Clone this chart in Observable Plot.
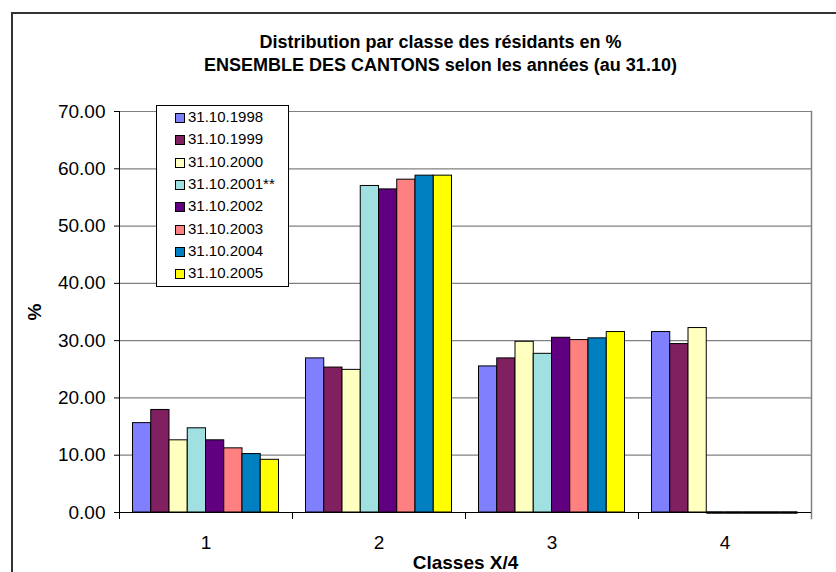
<!DOCTYPE html>
<html>
<head>
<meta charset="utf-8">
<script src="https://cdn.jsdelivr.net/npm/d3@7"></script>
<script src="https://cdn.jsdelivr.net/npm/@observablehq/plot@0.6"></script>
<style>
  body { margin: 0; background: #fff; font-family: "Liberation Sans", Arial, sans-serif; }
  #wrap { position: relative; width: 836px; height: 572px; overflow: hidden; background: #fff; }
  #wrap svg { position: absolute; left: 0; top: 0; }
  #border { position: absolute; left: 11px; top: 12px; width: 900px; height: 700px; border: 2px solid #333; pointer-events: none; }
  #title { position: absolute; left: 12px; width: 857px; top: 31px; text-align: center; font-weight: bold; font-size: 18px; line-height: 23px; color: #000; }
  #legend { position: absolute; left: 156px; top: 105px; width: 131px; height: 180px; border: 1px solid #000; background: #fff; }
  .item { position: absolute; left: 0; height: 22px; line-height: 22px; font-size: 15px; color: #000; white-space: nowrap; }
  .sw { position: absolute; left: 18px; top: 7px; width: 8px; height: 8px; border: 1px solid #000; }
  .lb { position: absolute; left: 31px; top: 0; }
</style>
</head>
<body>
<div id="wrap">
  <div id="title">Distribution par classe des résidants en %<br>ENSEMBLE DES CANTONS selon les années (au 31.10)</div>
  <div id="border"></div>
</div>
<script>
const classes = ["1", "2", "3", "4"];
const years = ["31.10.1998", "31.10.1999", "31.10.2000", "31.10.2001**", "31.10.2002", "31.10.2003", "31.10.2004", "31.10.2005"];
const colors = ["#8080FF", "#802060", "#FFFFC0", "#A0E0E0", "#600080", "#FF8080", "#0080C0", "#FFFF00"];
const s1998 = [15.6, 26.9, 25.5, 31.5];
const s1999 = [17.9, 25.3, 26.9, 29.4];
const s2000 = [12.6, 24.9, 29.8, 32.2];
const s2001 = [14.7, 57.0, 27.7, 0];
const s2002 = [12.6, 56.4, 30.5, 0];
const s2003 = [11.2, 58.1, 30.1, 0];
const s2004 = [10.2, 58.8, 30.4, 0];
const s2005 = [9.2, 58.8, 31.5, 0];
const yTicks = [0, 10, 20, 30, 40, 50, 60, 70];

const series = [s1998, s1999, s2000, s2001, s2002, s2003, s2004, s2005];
const data = [];
years.forEach((yr, i) => classes.forEach((c, j) => data.push({year: yr, cls: c, value: series[i][j]})));

const chart = Plot.plot({
  width: 836,
  height: 572,
  marginLeft: 118,
  marginRight: 25,
  marginTop: 111,
  marginBottom: 60,
  style: {fontFamily: "'Liberation Sans', Arial, sans-serif", background: "transparent", color: "#000"},
  fx: {domain: classes, padding: 0},
  x: {domain: years, paddingInner: 0, paddingOuter: 0.74, round: false, axis: null},
  y: {domain: [0, 70]},
  color: {domain: years, range: colors},
  marks: [
    Plot.gridY(yTicks, {stroke: "#808080", strokeOpacity: 1, strokeWidth: 1.2}),
    Plot.frame({anchor: "right", facetAnchor: "right", stroke: "#808080", strokeWidth: 1.5, insetBottom: -6}),
    Plot.frame({anchor: "left", stroke: "#000", insetTop: 401, insetBottom: -6}),
    Plot.frame({anchor: "left", facetAnchor: "left", stroke: "#000", insetBottom: -6}),
    Plot.barY(data, {fx: "cls", x: "year", y: "value", fill: "year", stroke: "#000", strokeWidth: 1}),
    Plot.tickY(data.filter(d => d.value === 0), {fx: "cls", x: "year", y: "value", stroke: "#000", strokeWidth: 2.5}),
    Plot.ruleY([0], {stroke: "#000", strokeWidth: 1}),
    Plot.axisY(yTicks, {tickFormat: d3.format(".2f"), tickSize: 5, tickPadding: 9, fontSize: 19, label: "%", labelArrow: false, labelAnchor: "center", labelOffset: 92}),
    Plot.axisFx({anchor: "bottom", tickSize: 0, tickPadding: 23, fontSize: 19, label: "Classes X/4", labelArrow: false, labelAnchor: "center", labelOffset: 56})
  ]
});
document.getElementById("wrap").prepend(chart);

d3.select(chart).selectAll('g[aria-label="fx-axis label"] text, g[aria-label="y-axis label"] text')
  .style("font-weight", "bold").style("font-size", "19px")
  .each(function() { this.textContent = this.textContent.replace(/\s*[→↑←↓]\s*/g, ""); });

const legend = d3.select("#wrap").append("div").attr("id", "legend");
years.forEach((yr, i) => {
  const it = legend.append("div").attr("class", "item").style("top", (i * 22.3) + "px");
  it.append("div").attr("class", "sw").style("background", colors[i]);
  it.append("div").attr("class", "lb").text(yr);
});
</script>
</body>
</html>
